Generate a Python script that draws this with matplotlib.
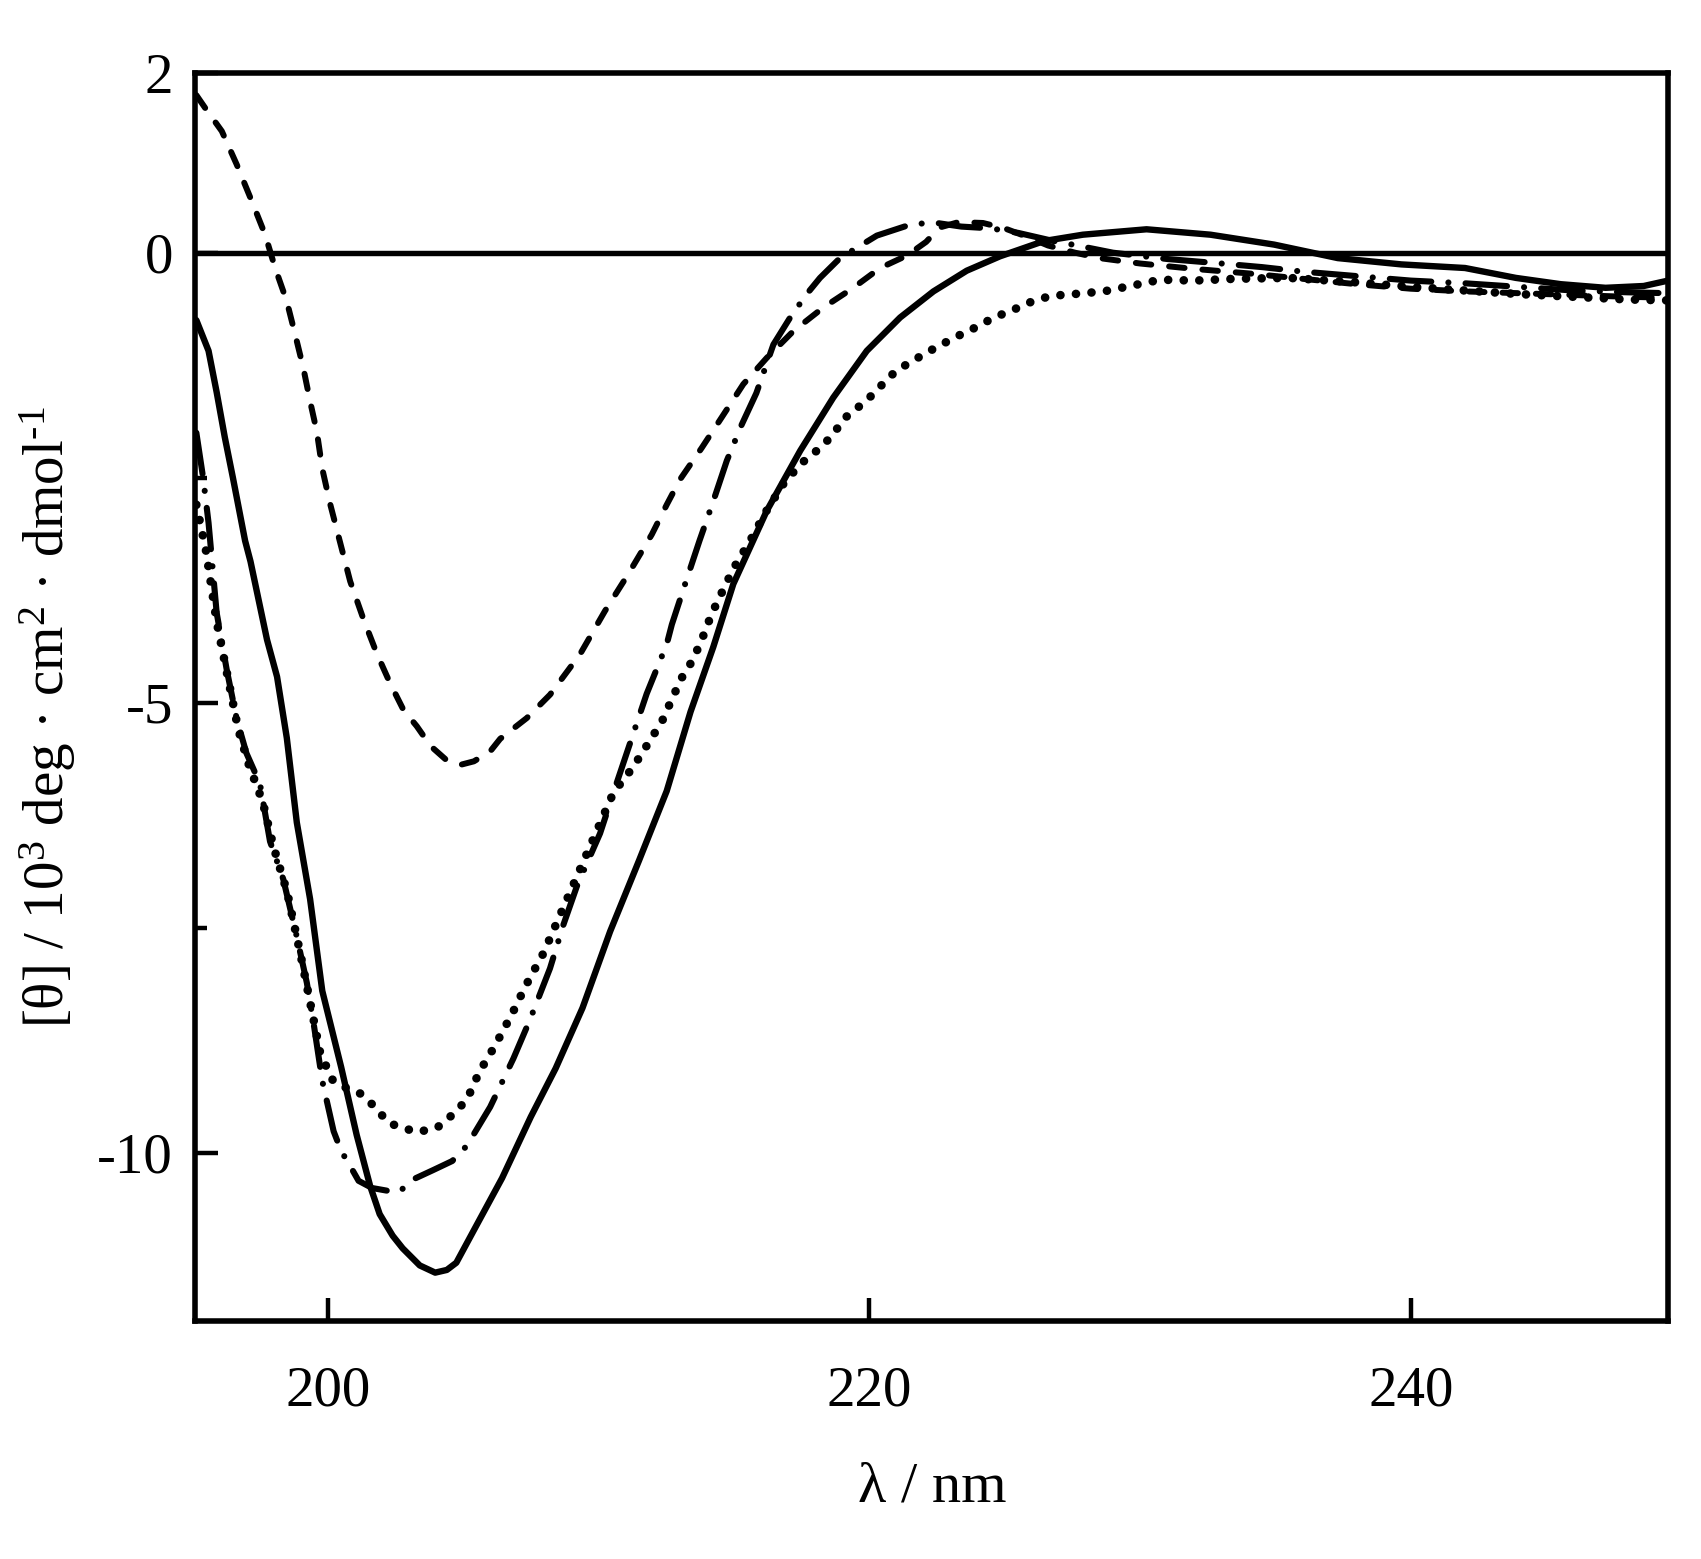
import matplotlib
matplotlib.use('Agg')
import matplotlib.pyplot as plt

plt.rcParams['font.family'] = ['Liberation Serif', 'DejaVu Serif']
plt.rcParams['mathtext.fontset'] = 'custom'
plt.rcParams['mathtext.rm'] = 'Liberation Serif'
plt.rcParams['mathtext.it'] = 'Liberation Serif:italic'
plt.rcParams['axes.unicode_minus'] = False

# solid curve
wl_solid = [195.15, 195.6, 195.9, 196.2, 196.5, 196.95, 197.15, 197.76, 198.13, 198.49,
            198.86, 199.35, 199.8, 200.5, 201.07, 201.57, 201.92, 202.4, 202.77, 203.4,
            203.97, 204.4, 204.75, 205.45, 206.44, 207.5, 208.42, 209.41, 210.43, 211.5,
            212.52, 213.4, 214.24, 214.98, 216.21, 217.45, 218.67, 219.91, 221.14, 222.37,
            223.6, 224.83, 226.46, 227.89, 230.24, 232.6, 234.95, 237.3, 239.65, 242.0,
            243.88, 245.54, 247.19, 248.6, 249.5]
th_solid = [-0.75, -1.09, -1.55, -2.05, -2.5, -3.2, -3.43, -4.3, -4.71, -5.39,
            -6.33, -7.18, -8.2, -9.05, -9.8, -10.37, -10.68, -10.92, -11.06, -11.25,
            -11.33, -11.3, -11.22, -10.83, -10.28, -9.6, -9.06, -8.39, -7.54, -6.75,
            -5.98, -5.1, -4.38, -3.68, -2.87, -2.2, -1.61, -1.09, -0.72, -0.43,
            -0.2, -0.04, 0.13, 0.2, 0.26, 0.2, 0.09, -0.06, -0.13, -0.17,
            -0.28, -0.35, -0.39, -0.37, -0.31]

# dashed curve
wl_dash = [195.15, 195.47, 196.09, 196.64, 197.2, 197.69, 198.06, 198.49, 198.8, 199.1,
           199.35, 199.6, 199.8, 200.09, 200.46, 200.83, 201.32, 201.81, 202.3, 202.8,
           203.29, 203.8, 204.4, 204.89, 205.4, 206.0, 206.37, 207.35, 208.21, 209.32,
           210.24, 211.1, 211.97, 212.52, 213.01, 213.81, 214.55, 215.35, 216.21, 217.2,
           218.3, 219.41, 220.4, 221.4, 222.1, 222.6, 223.3, 224.2, 225.0, 225.8,
           226.6, 227.6, 228.5, 230.0, 232.0, 234.0, 236.0, 238.0, 240.0, 242.0,
           244.0, 246.0, 248.0, 249.5]
th_dash = [1.75, 1.61, 1.35, 0.98, 0.57, 0.2, -0.17, -0.54, -0.91, -1.28,
           -1.65, -1.99, -2.4, -2.79, -3.22, -3.65, -4.07, -4.45, -4.78, -5.08,
           -5.26, -5.48, -5.64, -5.69, -5.65, -5.54, -5.4, -5.17, -4.91, -4.46,
           -3.98, -3.57, -3.13, -2.8, -2.52, -2.17, -1.83, -1.46, -1.17, -0.87,
           -0.61, -0.39, -0.17, -0.03, 0.12, 0.28, 0.34, 0.33, 0.27, 0.18,
           0.08, 0.0, -0.06, -0.12, -0.18, -0.23, -0.29, -0.35, -0.4, -0.43,
           -0.45, -0.47, -0.49, -0.5]

# dash-dot curve
wl_dashdot = [195.15, 195.4, 195.6, 195.9, 196.27, 196.64, 197.0, 197.5, 197.87, 198.36,
              198.86, 199.23, 199.5, 199.8, 200.22, 200.5, 200.8, 201.14, 201.64, 202.2,
              202.67, 203.04, 203.9, 204.6, 205.14, 206.0, 206.86, 207.47, 208.21, 208.7,
              209.2, 210.06, 210.55, 211.78, 212.52, 212.71, 213.2, 213.73, 214.24, 214.74,
              215.29, 215.83, 216.46, 217.08, 217.69, 218.18, 218.92, 220.28, 221.6, 222.5,
              223.4, 224.5, 225.5, 226.8, 227.5, 229.0, 231.0, 233.0, 234.5, 236.0,
              238.0, 240.0, 242.0, 244.0, 246.0, 248.0, 249.5]
th_dashdot = [-2.0, -2.5, -3.0, -4.0, -4.63, -5.18, -5.56, -5.9, -6.54, -6.96,
              -7.6, -8.11, -8.6, -9.2, -9.76, -9.98, -10.13, -10.31, -10.39, -10.42,
              -10.43, -10.31, -10.19, -10.09, -9.92, -9.49, -8.95, -8.52, -7.95, -7.47,
              -7.04, -6.45, -6.0, -4.9, -4.35, -4.13, -3.68, -3.2, -2.76, -2.31,
              -1.91, -1.56, -1.02, -0.72, -0.46, -0.28, -0.06, 0.19, 0.32, 0.33,
              0.29, 0.27, 0.22, 0.13, 0.09, 0.0, -0.07, -0.12, -0.16, -0.21,
              -0.26, -0.31, -0.34, -0.38, -0.42, -0.44, -0.45]

# dotted curve
wl_dot = [195.15, 195.5, 195.9, 196.3, 196.7, 197.1, 197.6, 198.0, 198.5, 199.0,
          199.4, 199.73, 200.2, 200.7, 201.2, 201.64, 202.27, 202.77, 203.3, 204.04,
          204.75, 205.17, 205.6, 206.02, 206.43, 206.9, 207.3, 207.97, 209.0, 210.55,
          211.29, 212.34, 212.71, 213.08, 213.39, 213.75, 214.12, 214.37, 215.0, 215.6,
          216.2, 216.8, 217.45, 218.18, 218.67, 219.04, 219.66, 220.15, 220.77, 221.38,
          222.24, 223.17, 224.0, 224.6, 225.2, 225.95, 226.69, 227.55, 228.66, 229.64,
          230.75, 232.0, 233.5, 235.5, 238.0, 240.0, 242.0, 244.0, 246.0, 248.0, 249.5]
th_dot = [-2.8, -3.3, -4.1, -4.7, -5.3, -5.7, -6.1, -6.6, -7.1, -7.8,
          -8.4, -8.9, -9.2, -9.28, -9.34, -9.46, -9.67, -9.72, -9.77, -9.72,
          -9.54, -9.39, -9.1, -8.89, -8.67, -8.4, -8.15, -7.78, -7.07, -6.0,
          -5.71, -5.21, -4.96, -4.72, -4.57, -4.35, -4.06, -3.89, -3.5, -3.2,
          -2.87, -2.58, -2.35, -2.17, -2.02, -1.85, -1.7, -1.57, -1.37, -1.24,
          -1.09, -0.94, -0.82, -0.72, -0.65, -0.55, -0.48, -0.46, -0.43, -0.37,
          -0.3, -0.31, -0.29, -0.28, -0.33, -0.38, -0.42, -0.46, -0.49, -0.52, -0.53]

x_ticks = [200, 220, 240]
y_ticks = [2, 0, -5, -10]
y_minor = [-2.5, -7.5]

fig = plt.figure(figsize=(17.01, 15.59), dpi=100)
ax = fig.add_axes([0.1148, 0.1525, 0.8660, 0.8009])

ax.axhline(0, color='black', lw=3.9, zorder=1)
ax.plot(wl_solid, th_solid, color='black', lw=4.6, solid_capstyle='round',
        solid_joinstyle='round', zorder=3)
ax.plot(wl_dash, th_dash, color='black', lw=4.3, dashes=(2.6, 3.0),
        dash_capstyle='round', zorder=3)
ax.plot(wl_dashdot, th_dashdot, color='black', lw=4.4, dashes=(6.8, 2.8, 0.01, 2.8),
        dash_capstyle='round', zorder=3)
ax.plot(wl_dot, th_dot, color='black', lw=6.2, dashes=(0.01, 1.8),
        dash_capstyle='round', zorder=3)

ax.set_xlim(195.11, 249.51)
ax.set_ylim(-11.87, 2.0)
ax.set_xticks(x_ticks)
ax.set_yticks(y_ticks)
ax.set_yticks(y_minor, minor=True)
ax.tick_params(axis='both', which='major', direction='in', width=3.2, labelsize=41,
               top=False, right=False)
ax.tick_params(axis='x', which='major', length=16.5, pad=32)
ax.tick_params(axis='y', which='major', length=16.5, pad=16)
ax.tick_params(axis='y', which='minor', direction='in', length=8.6, width=3.2)
for sp in ax.spines.values():
    sp.set_linewidth(4.0)

ax.set_xlabel('λ / nm', fontsize=42, va='center')
ax.xaxis.set_label_coords(0.5, -0.133)
ax.set_ylabel('[θ] / 10$^{3}$ deg · cm$^{2}$ · dmol$^{\u2010 1}$', fontsize=41,
              va='center', ha='center')
ax.yaxis.set_label_coords(-0.100, 0.484)

fig.savefig('out.png', dpi=100)
